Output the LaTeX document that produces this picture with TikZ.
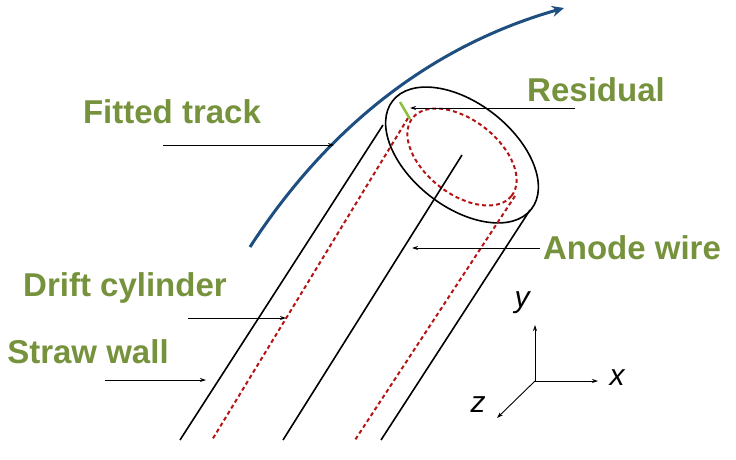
\documentclass[tikz,border=0pt]{standalone}
\usepackage{fontspec}
\setmainfont{Liberation Sans}
\usetikzlibrary{arrows.meta}
\definecolor{lab}{RGB}{118,146,60}
\definecolor{trk}{RGB}{31,78,128}
\definecolor{drift}{RGB}{180,20,20}
\definecolor{resg}{RGB}{140,190,60}
\begin{document}
\begin{tikzpicture}[x=1pt,y=1pt,
  lbl/.style={text=lab,font=\bfseries\fontsize{33}{36}\selectfont},
  ax/.style={font=\itshape\fontsize{30}{32}\selectfont},
  pointer/.style={-{Stealth[length=6pt,width=4pt]},line width=0.9pt},
  tube/.style={line width=1.6pt},
  dr/.style={drift,line width=2pt,dash pattern=on 4pt off 3pt}]
\useasboundingbox (0,0) rectangle (736,459);
% tube
\draw[tube] (462,304) ellipse[x radius=88,y radius=52,rotate=-38];
\draw[dr] (462,302) ellipse[x radius=63,y radius=37,rotate=-38];
\coordinate (lt) at (383,334); \coordinate (lb) at (180,19);
\coordinate (rt) at (530,249); \coordinate (rb) at (381,19);
\coordinate (wt) at (462,304); \coordinate (wb) at (283,19);
\coordinate (dlt) at (408,341); \coordinate (dlb) at (212,19);
\coordinate (drt) at (515,263); \coordinate (drb) at (355,19);
\draw[tube] (lt) -- (lb);
\draw[tube] (rt) -- (rb);
\draw[tube] (wt) -- (wb);
\draw[dr] (dlt) -- (dlb);
\draw[dr] (drt) -- (drb);
% track
\coordinate (ts) at (250,212); \coordinate (te) at (564,451);
\draw[trk,line width=3pt,-{Stealth[length=12pt,width=11pt]}] (ts) .. controls (320,320) and (420,410) .. (te);
\coordinate (r1) at (400,357); \coordinate (r2) at (410,340);
\draw[resg,line width=2.5pt] (r1) -- (r2);
% labels
\node[lbl] (res) at (596,369) {Residual};
\node[lbl] (fit) at (172,347) {Fitted track};
\node[lbl] (ano) at (632,211) {Anode wire};
\node[lbl] (dc) at (125,171) {Drift cylinder};
\node[lbl] (sw) at (88,107) {Straw wall};
\coordinate (a1) at (575,351); \coordinate (a2) at (410,351);
\draw[pointer] (a1) -- (a2);
\coordinate (b1) at (163,314); \coordinate (b2) at (334,314);
\draw[pointer] (b1) -- (b2);
\coordinate (c1) at (540,211); \coordinate (c2) at (412,211);
\draw[pointer] (c1) -- (c2);
\coordinate (d1) at (188,141); \coordinate (d2) at (286,141);
\draw[pointer] (d1) -- (d2);
\coordinate (e1) at (105,79); \coordinate (e2) at (206,79);
\draw[pointer] (e1) -- (e2);
% axes
\coordinate (o) at (535,78);
\coordinate (oy) at (535,134); \coordinate (ox) at (598,78); \coordinate (oz) at (497,41);
\draw[pointer] (o) -- (oy);
\draw[pointer] (o) -- (ox);
\draw[pointer] (o) -- (oz);
\node[ax] (ly) at (522,156) {y};
\node[ax] (lx) at (617,81) {x};
\node[ax] (lz) at (478,54) {z};
\end{tikzpicture}
\end{document}
